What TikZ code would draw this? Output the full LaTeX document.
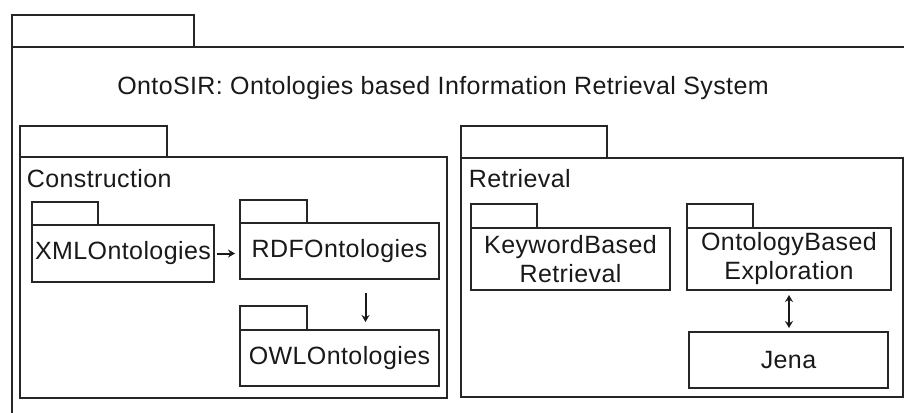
\documentclass[tikz,border=0pt]{standalone}
\usepackage{fontspec}
\setmainfont[LetterSpace=1.6]{Liberation Sans}
\usetikzlibrary{arrows.meta,calc}
\newcommand\pkgtab[3]{\draw (#1.north west) rectangle ++(#2,-#3);}
\begin{document}
\begin{tikzpicture}[x=1pt,y=-1pt,
  line width=1.8pt, draw=black!85,
  pkg/.style={draw=black!85, anchor=north west, inner sep=0pt, outer sep=0pt,
    font=\fontsize{25}{29}\selectfont, align=center, text=black!90},
  lbl/.style={anchor=base west, inner sep=0pt, font=\fontsize{25}{29}\selectfont, text=black!90},
  tip/.style={Stealth[length=7pt,width=8pt]},
  arr/.style={-{Stealth[length=7pt,width=8pt]}, line width=2pt, draw=black!90},
  darr/.style={{Stealth[length=7pt,width=8pt]}-{Stealth[length=7pt,width=8pt]}, line width=2pt, draw=black!90},
]
\useasboundingbox (0,0) rectangle (904,412);
\begin{scope}
\clip (0,0) rectangle (904,412);
% enclosing system package (runs past the page edge)
\node[pkg, minimum width=920pt, minimum height=400pt] (sys) at (12,47) {};
\pkgtab{sys}{182}{32}
\node[anchor=base, inner sep=0pt, font=\fontsize{25}{29}\selectfont, text=black!90] (title) at (443,94)
  {OntoSIR: Ontologies based Information Retrieval System};

% Construction package
\node[pkg, minimum width=427pt, minimum height=241pt] (cons) at (20,157) {};
\pkgtab{cons}{147}{31}
\node[lbl] (consl) at (26,187) {Construction};

\node[pkg, minimum width=182pt, minimum height=57pt] (xml) at (32,225) {XMLOntologies};
\pkgtab{xml}{66}{23}
\node[pkg, minimum width=199pt, minimum height=56pt] (rdf) at (240,223) {RDFOntologies};
\pkgtab{rdf}{67}{23}
\node[pkg, minimum width=199pt, minimum height=56pt] (owl) at (240,330) {OWLOntologies};
\pkgtab{owl}{67}{24}

\draw[arr, shorten <=3pt, shorten >=5pt] (xml.east) -- (xml.east -| rdf.west);
\draw[arr, shorten <=14pt, shorten >=8pt] ([xshift=26pt]rdf.south) -- ([xshift=26pt]owl.north);

% Retrieval package
\node[pkg, minimum width=442pt, minimum height=239pt] (retr) at (461,158) {};
\pkgtab{retr}{146}{32}
\node[lbl] (retrl) at (468,187) {Retrieval};

\node[pkg, minimum width=199pt, minimum height=62pt] (kw) at (471,228) {KeywordBased\\Retrieval};
\pkgtab{kw}{66}{24}
\node[pkg, minimum width=204pt, minimum height=62pt] (onto) at (687,228) {OntologyBased\\Exploration};
\pkgtab{onto}{66}{24}
\node[pkg, minimum width=199pt, minimum height=56pt] (jena) at (689,332) {Jena};

\draw[darr, shorten <=5pt, shorten >=4pt] (onto.south) -- (onto.south |- jena.north);
\end{scope}
\end{tikzpicture}
\end{document}
